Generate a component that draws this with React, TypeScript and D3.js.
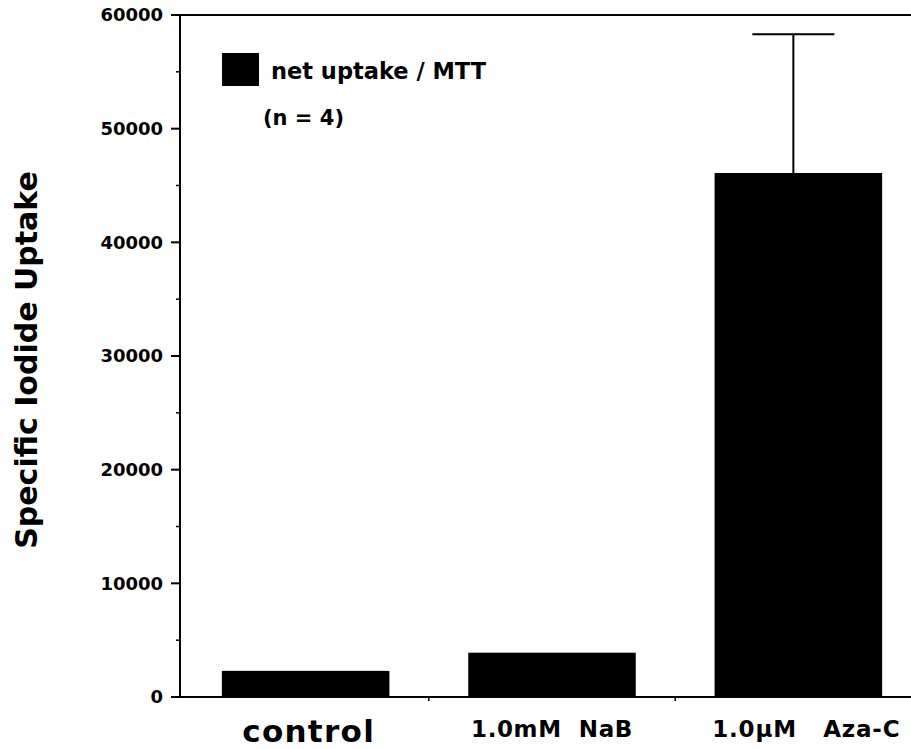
import { useRef, useEffect } from "react";
import * as d3 from "d3";

const categories = ["control", "1.0mM  NaB", "1.0\u00b5M   Aza-C"];
const uptake = [2300, 3900, 46100];
const uptakeErr = [0, 0, 12200];
const yTicks = [0, 10000, 20000, 30000, 40000, 50000, 60000];
const yMinorTicks = [5000, 15000, 25000, 35000, 45000, 55000];
const legendLabel = "net uptake / MTT";
const nLabel = "(n = 4)";
const yTitle = "Specific Iodide Uptake";

const WIDTH = 911;
const HEIGHT = 749;
const FONT = "'DejaVu Sans', Verdana, sans-serif";

export default function App() {
  const svgRef = useRef(null);

  useEffect(() => {
    const svg = d3.select(svgRef.current);
    svg.selectAll("*").remove();

    const left = 180;
    const top = 15;
    const bottom = 697;

    const x = d3.scaleBand()
      .domain(categories)
      .range([left, 924])
      .paddingInner(0.32)
      .paddingOuter(0.17);

    const y = d3.scaleLinear().domain([0, 60000]).range([bottom, top]);

    const g = svg.append("g");

    // bars
    g.selectAll("rect.bar")
      .data(categories)
      .enter()
      .append("rect")
      .attr("class", "bar")
      .attr("x", d => x(d)!)
      .attr("width", x.bandwidth())
      .attr("y", (d, i) => y(uptake[i]))
      .attr("height", (d, i) => bottom - y(uptake[i]))
      .attr("fill", "#000");

    // error bars (upper only)
    categories.forEach((c, i) => {
      if (!uptakeErr[i]) return;
      const cx = x(c)! + x.bandwidth() / 2 - 5;
      g.append("line")
        .attr("x1", cx).attr("x2", cx)
        .attr("y1", y(uptake[i])).attr("y2", y(uptake[i] + uptakeErr[i]))
        .attr("stroke", "#000").attr("stroke-width", 2);
      g.append("line")
        .attr("x1", cx - 41).attr("x2", cx + 41)
        .attr("y1", y(uptake[i] + uptakeErr[i])).attr("y2", y(uptake[i] + uptakeErr[i]))
        .attr("stroke", "#000").attr("stroke-width", 2);
    });

    // frame lines
    g.append("line")
      .attr("x1", left).attr("x2", WIDTH)
      .attr("y1", top).attr("y2", top)
      .attr("stroke", "#000").attr("stroke-width", 2);
    g.append("line")
      .attr("x1", left).attr("x2", WIDTH)
      .attr("y1", bottom).attr("y2", bottom)
      .attr("stroke", "#000").attr("stroke-width", 2);
    g.append("line")
      .attr("x1", left).attr("x2", left)
      .attr("y1", top).attr("y2", bottom + 1)
      .attr("stroke", "#000").attr("stroke-width", 2);

    // y ticks
    g.selectAll("line.ytick")
      .data(yTicks)
      .enter()
      .append("line")
      .attr("x1", left - 9).attr("x2", left)
      .attr("y1", d => y(d)).attr("y2", d => y(d))
      .attr("stroke", "#000").attr("stroke-width", 2);
    g.selectAll("line.yminor")
      .data(yMinorTicks)
      .enter()
      .append("line")
      .attr("x1", left - 4).attr("x2", left)
      .attr("y1", d => y(d)).attr("y2", d => y(d))
      .attr("stroke", "#000").attr("stroke-width", 1.5);
    g.selectAll("text.ylab")
      .data(yTicks)
      .enter()
      .append("text")
      .attr("x", 163)
      .attr("y", d => y(d))
      .attr("dy", "0.36em")
      .attr("text-anchor", "end")
      .style("font-family", FONT)
      .style("font-weight", "bold")
      .style("font-size", "18px")
      .text(d => String(d));

    // x ticks between categories
    const step = x.step();
    [1, 2].forEach(k => {
      const tx = x(categories[k])! - (step - x.bandwidth()) / 2;
      g.append("line")
        .attr("x1", tx).attr("x2", tx)
        .attr("y1", bottom).attr("y2", bottom + 4)
        .attr("stroke", "#000").attr("stroke-width", 1.5);
    });

    // category labels
    const labelStyle = [
      { size: 31, spacing: 1.3, baseline: 742, dx: 3 },
      { size: 23, spacing: 0.6, baseline: 737, dx: 0 },
      { size: 23, spacing: 0.8, baseline: 737, dx: 8 },
    ];
    categories.forEach((c, i) => {
      const s = labelStyle[i];
      g.append("text")
        .attr("x", x(c)! + x.bandwidth() / 2 + s.dx)
        .attr("y", s.baseline)
        .attr("text-anchor", "middle")
        .attr("xml:space", "preserve")
        .style("white-space", "pre")
        .style("font-family", FONT)
        .style("font-weight", "bold")
        .style("font-size", s.size + "px")
        .style("letter-spacing", s.spacing + "px")
        .text(c);
    });

    // y title
    g.append("text")
      .attr("transform", `translate(37,360) rotate(-90)`)
      .attr("text-anchor", "middle")
      .style("font-family", FONT)
      .style("font-weight", "bold")
      .style("font-size", "30px")
      .text(yTitle);

    // legend
    g.append("rect")
      .attr("x", 222).attr("y", 53)
      .attr("width", 37).attr("height", 33)
      .attr("fill", "#000");
    g.append("text")
      .attr("x", 271).attr("y", 79)
      .style("font-family", FONT)
      .style("font-weight", "bold")
      .style("font-size", "22.5px")
      .text(legendLabel);
    g.append("text")
      .attr("x", 263).attr("y", 125)
      .style("font-family", FONT)
      .style("font-weight", "bold")
      .style("font-size", "21px")
      .text(nLabel);
  }, []);

  return (
    <svg
      ref={svgRef}
      width={WIDTH}
      height={HEIGHT}
      style={{ position: "absolute", left: 0, top: 0, background: "#fff" }}
    />
  );
}
